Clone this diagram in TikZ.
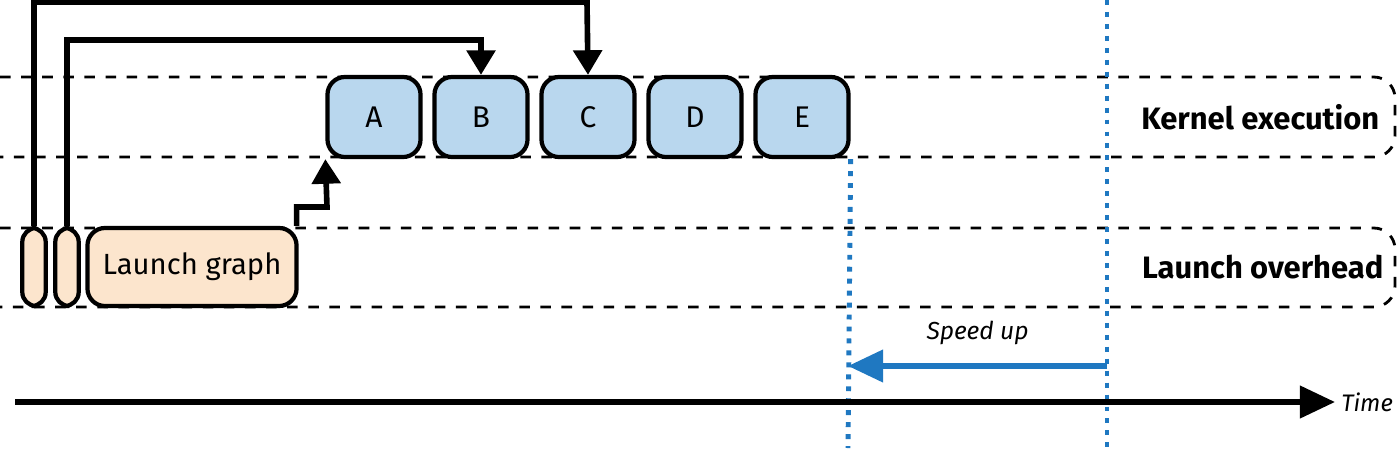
\documentclass[tikz,border=0pt]{standalone}
\usepackage{fontspec}
\setmainfont{Fira Sans}
\usetikzlibrary{arrows.meta}
\definecolor{kblue}{HTML}{B9D7EE}
\definecolor{lpeach}{HTML}{FCE5CD}
\definecolor{sblue}{HTML}{1F78C1}
\tikzset{
  kern/.style={draw, very thick, fill=kblue, rounded corners=5pt, minimum width=0.93cm, minimum height=0.8cm, font=\fontsize{8.5}{9}\selectfont},
  lnch/.style={draw, very thick, fill=lpeach, rounded corners=5pt, minimum height=0.78cm, font=\fontsize{8.3}{9}\selectfont},
  band/.style={thick, dashed, rounded corners=6pt},
  flow/.style={line width=1.6pt, -{Triangle[length=7pt,width=8pt]}},
  tmark/.style={sblue, line width=1.4pt, dotted},
  lane/.style={font=\fontsize{8.8}{10}\selectfont\bfseries, anchor=east, inner sep=0pt},
}
\begin{document}
\begin{tikzpicture}[x=0.01cm, y=-0.01cm]
 \useasboundingbox (0,0) rectangle (1400,448);

 % bands
 \draw[band] (0,77) -- (1395,77) -- (1395,157) -- (0,157);
 \draw[band] (0,228) -- (1395,228) -- (1395,307) -- (0,307);
 \node[lane] (kexec) at (1380,117) {Kernel execution};
 \node[lane] (lover) at (1384,267) {Launch overhead};

 % kernels
 \foreach \i/\name in {0/A,1/B,2/C,3/D,4/E} {
   \node[kern] (k\name) at (374+\i*107,117) {\name};
 }

 % launches
 \node[lnch, minimum width=0.23cm, rounded corners=4pt] (p1) at (34,267) {};
 \node[lnch, minimum width=0.23cm, rounded corners=4pt] (p2) at (67,267) {};
 \node[lnch, minimum width=2.09cm] (lg) at (192,267) {Launch graph};

 % lines
 \draw[flow] (p1.north) |- (587,2) -- (kC.north);
 \draw[flow] (p2.north) |- (481,40) -- (kB.north);
 \draw[flow] (lg.north east) ++(-2,0) |- (327,207) -- (kA.south west);

 % markers
 \coordinate (m1) at (848,448);
 \coordinate (m2) at (1107,0);
 \coordinate (m2b) at (1107,448);
 \draw[tmark] (kE.south east) -- (m1);
 \draw[tmark] (m2) -- (m2b);
 \coordinate (s1) at (1107,366);
 \coordinate (s2) at (848,366);
 \draw[sblue, line width=1.6pt, -{Triangle[length=10pt,width=9pt]}] (s1) -- (s2)
   node[midway, above=2pt, text=black, font=\fontsize{7}{8}\selectfont\itshape] {Speed up};

 % time
 \coordinate (t0) at (15,402);
 \coordinate (t1) at (1335,402);
 \draw[line width=1.6pt, -{Triangle[length=10pt,width=9pt]}] (t0) -- (t1)
   node[right, inner sep=1pt, font=\fontsize{6.8}{8}\selectfont\itshape] {Time};
\end{tikzpicture}
\end{document}
